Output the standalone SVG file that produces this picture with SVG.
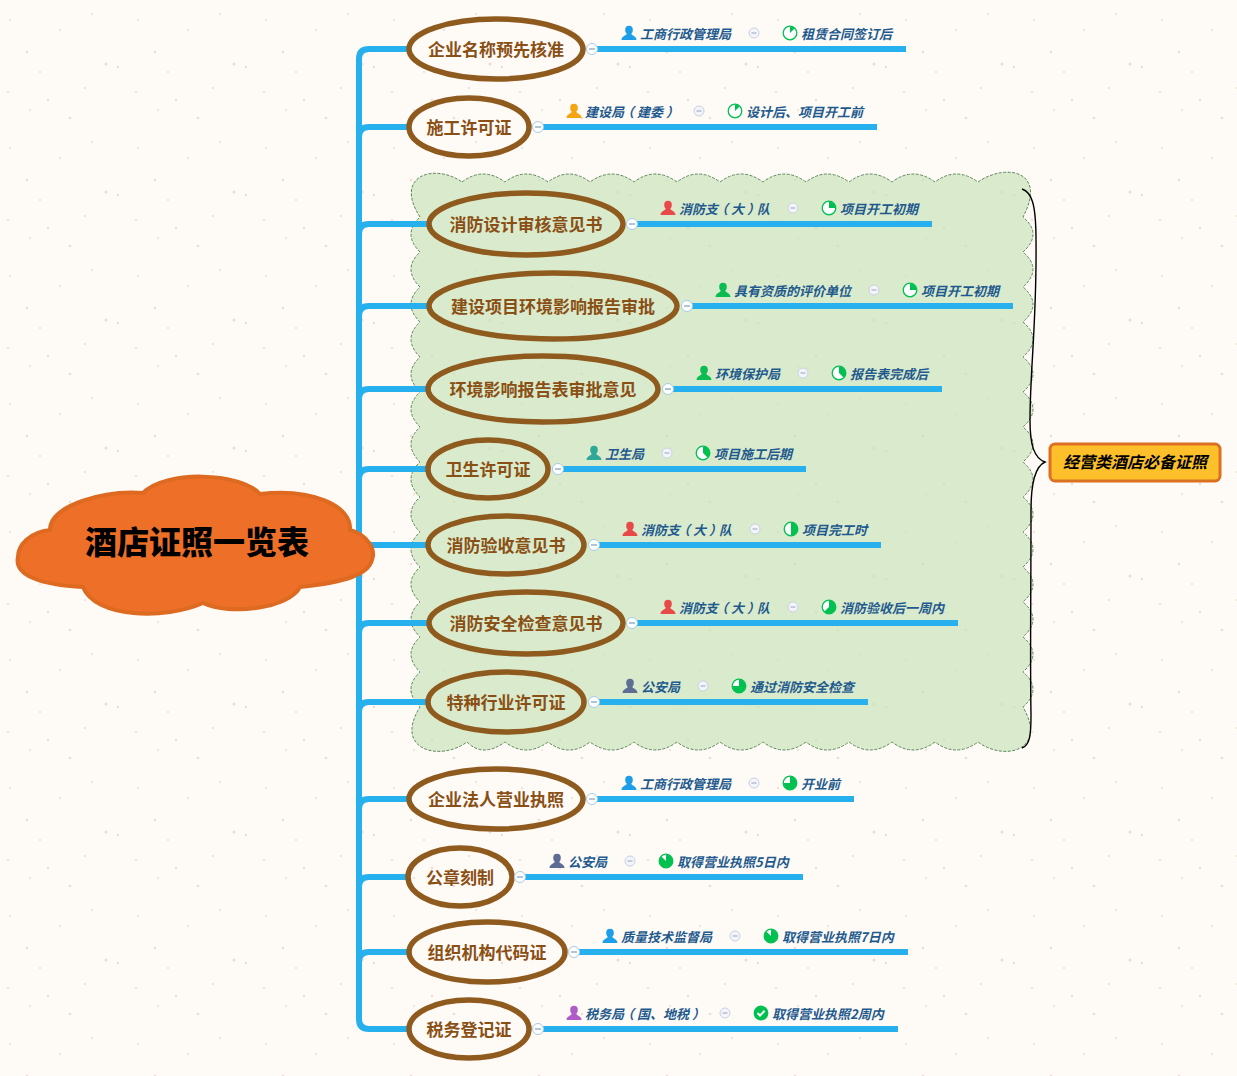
<svg xmlns="http://www.w3.org/2000/svg" xmlns:xlink="http://www.w3.org/1999/xlink" width="1237" height="1076" viewBox="0 0 1237 1076">
<style>
text{font-family:"Noto Sans CJK SC","Liberation Sans",sans-serif}
.t{fill:none;stroke:#8f5a1e;stroke-width:5.5}
.n{font-size:17px;font-weight:700;fill:#8a4f14;text-anchor:middle}
.l{font-size:13px;font-style:italic;font-weight:700;fill:#1f5a8e}
.c{fill:none;stroke:#27b0ee;stroke-width:6}
.e{stroke:#27b0ee;stroke-width:6}
.g{fill:#00c050}
.r{fill:#fff;stroke:#00c050;stroke-width:1.3}
</style>
<defs>
<pattern id="bg" width="128" height="128" patternUnits="userSpaceOnUse">
<rect width="128" height="128" fill="#fefaf6"/>
<g fill="#f5d8cf"><circle cx="106" cy="64" r="1.5"/><circle cx="27" cy="52" r="1.2"/><circle cx="70" cy="118" r="1.2"/><circle cx="48" cy="100" r="1.2"/><circle cx="8" cy="92" r="1"/></g>
<g fill="#ebe0cf"><circle cx="118" cy="67" r="1.2"/><circle cx="10" cy="20" r="1.1"/><circle cx="60" cy="30" r="1"/><circle cx="85" cy="88" r="1"/><circle cx="30" cy="110" r="1"/><circle cx="92" cy="14" r="1"/><circle cx="40" cy="72" r="1"/></g>
</pattern>
<g id="person"><ellipse cx="0" cy="-3" rx="3.8" ry="4.2"/><path d="M-7.5 7C-7.5 3-3 3-2 .5H2C3 3 7.5 3 7.5 7Z"/></g>
<g id="minus"><circle r="5" fill="#f3f5fa" stroke="#c9d0e4"/><path d="M-2.5 0H2.5" stroke="#98a3bd"/></g>
<g id="collapse"><circle r="5.5" fill="#fff" stroke="#a8cbe8"/><path d="M-3 0H3" stroke="#5f8db5"/></g>
<circle id="ring" r="6.8" class="r"/>
<g id="p1"><use xlink:href="#ring"/><path class="g" d="M0 0V-6.5A6.5 6.5 0 0 1 4.6-4.6Z"/></g>
<g id="p2"><use xlink:href="#ring"/><path class="g" d="M0 0V-6.5A6.5 6.5 0 0 1 6.5 0Z"/></g>
<g id="p3"><use xlink:href="#ring"/><path class="g" d="M0 0V-6.5A6.5 6.5 0 0 1 4.6 4.6Z"/></g>
<g id="p4"><use xlink:href="#ring"/><path class="g" d="M0 0V-6.5A6.5 6.5 0 0 1 0 6.5Z"/></g>
<g id="p5"><use xlink:href="#ring"/><path class="g" d="M0 0V-6.5A6.5 6.5 0 1 1-4.6 4.6Z"/></g>
<g id="p6"><use xlink:href="#ring"/><path class="g" d="M0 0V-6.5A6.5 6.5 0 1 1-6.5 0Z"/></g>
<g id="p7"><use xlink:href="#ring"/><path class="g" d="M0 0V-6.5A6.5 6.5 0 1 1-4.6-4.6Z"/></g>
<g id="p8"><circle r="7.4" class="g"/><path d="M-3.5 0L-1 2.6L3.6-2.2" fill="none" stroke="#fff" stroke-width="2"/></g>
</defs>
<rect width="1237" height="1076" fill="url(#bg)"/>
<path id="boundary" fill="#c9e4bb" fill-opacity=".7" stroke="#4f7a4f" stroke-width=".9" stroke-dasharray="3 1.5" d="M462 182Q483 166 505 182Q526 166 548 182Q569 166 590 182Q612 166 634 182Q655 166 677 182Q698 166 720 182Q741 166 763 182Q784 166 806 182Q827 166 849 182Q870 166 892 182Q913 166 935 182Q956 166 978 182C1005 163 1048 170 1023 217Q1043 234 1023 252Q1043 269 1023 287Q1043 304 1023 322Q1043 339 1023 357Q1043 374 1023 392Q1043 409 1023 427Q1043 444 1023 462Q1043 479 1023 497Q1043 514 1023 532Q1043 549 1023 567Q1043 584 1023 602Q1043 619 1023 637Q1043 654 1023 672Q1043 689 1023 707C1048 750 1005 762 978 742Q956 758 935 742Q913 758 892 742Q870 758 849 742Q827 758 806 742Q784 758 763 742Q741 758 720 742Q698 758 677 742Q655 758 634 742Q612 758 590 742Q569 758 548 742Q526 758 505 742Q483 758 467 742C440 762 393 750 420 707Q402 689 420 672Q402 654 420 637Q402 619 420 602Q402 584 420 567Q402 549 420 532Q402 514 420 497Q402 479 420 462Q402 444 420 427Q402 409 420 392Q402 374 420 357Q402 339 420 322Q402 304 420 287Q402 269 420 252Q402 234 420 217C393 175 435 163 462 182Z"/>
<path id="brace" fill="none" stroke="#000" stroke-width="1.4" d="M1022 189C1032 192 1036 205 1036 240C1037 320 1030 370 1030 420C1030 445 1034 458 1045 462C1036 466 1031 480 1031 510C1031 600 1030 660 1031 715C1031 735 1030 745 1022 748"/>
<g id="connectors">
<path class="c" d="M369 49Q359 49 359 59V1019Q359 1029 369 1029H408"/>
<path class="c" d="M369 49H408M359 137Q359 127 369 127H408M359 234Q359 224 369 224H428M359 316Q359 306 369 306H428M359 399Q359 389 369 389H428M359 479Q359 469 369 469H428M340 545H428M359 633Q359 623 369 623H428M359 712Q359 702 369 702H428M359 809Q359 799 369 799H408M359 887Q359 877 369 877H408M359 962Q359 952 369 952H408"/>
<g class="e">
<path d="M597 49H906"/><path d="M543 127H877"/><path d="M637 224H932"/><path d="M692 306H1013"/><path d="M673 389H942"/><path d="M563 469H806"/><path d="M599 545H881"/><path d="M637 623H958"/><path d="M599 702H868"/><path d="M597 799H854"/><path d="M525 877H803"/><path d="M579 952H908"/><path d="M543 1029H898"/>
</g>
</g>
<g id="root"><path fill="#ee6f27" stroke="#dd6a20" stroke-width="4" d="M50 530C50 505 105 490 143 493C165 470 240 472 260 494C310 488 352 505 350 530C368 535 376 550 372 560C368 575 345 582 300 587C290 608 230 616 203 603C165 620 95 618 83 587C40 585 14 575 18 557C18 545 30 532 50 530Z"/><text x="197" y="554" font-size="32" font-weight="900" text-anchor="middle" fill="#000">酒店证照一览表</text></g>
<g id="summary"><rect x="1050" y="444" width="170" height="37" rx="5" fill="#fdc02a" stroke="#db6f22" stroke-width="3"/><text x="1063" y="468" font-size="16" font-weight="700" font-style="italic" fill="#000">经营类酒店必备证照</text></g>

<g id="n1"><ellipse class="t" cx="496" cy="49" rx="87" ry="30"/><text class="n" x="496" y="56">企业名称预先核准</text><use xlink:href="#collapse" x="592" y="49"/><use xlink:href="#person" x="629" y="33" fill="#1c9fe8"/><text class="l" x="640" y="39">工商行政管理局</text><use xlink:href="#minus" x="754" y="33"/><use xlink:href="#p1" x="790" y="33"/><text class="l" x="801" y="39">租赁合同签订后</text></g>
<g id="n2"><ellipse class="t" cx="469" cy="127" rx="60" ry="29"/><text class="n" x="469" y="134">施工许可证</text><use xlink:href="#collapse" x="538" y="127"/><use xlink:href="#person" x="574" y="111" fill="#f5a511"/><text class="l" x="585" y="117">建设局<tspan dx="-3">（</tspan><tspan dx="3">建委</tspan><tspan dx="3">）</tspan></text><use xlink:href="#minus" x="699" y="111"/><use xlink:href="#p1" x="735" y="111"/><text class="l" x="746" y="117">设计后、项目开工前</text></g>
<g id="n3"><ellipse class="t" cx="526" cy="224" rx="97" ry="31"/><text class="n" x="526" y="231">消防设计审核意见书</text><use xlink:href="#collapse" x="632" y="224"/><use xlink:href="#person" x="668" y="208" fill="#e84a4a"/><text class="l" x="679" y="214">消防支<tspan dx="-3">（</tspan><tspan dx="3">大</tspan><tspan dx="3">）</tspan><tspan dx="-3">队</tspan></text><use xlink:href="#minus" x="793" y="208"/><use xlink:href="#p2" x="829" y="208"/><text class="l" x="840" y="214">项目开工初期</text></g>
<g id="n4"><ellipse class="t" cx="553" cy="306" rx="124" ry="33"/><text class="n" x="553" y="313">建设项目环境影响报告审批</text><use xlink:href="#collapse" x="687" y="306"/><use xlink:href="#person" x="723" y="290" fill="#0cbb52"/><text class="l" x="734" y="296">具有资质的评价单位</text><use xlink:href="#minus" x="874" y="290"/><use xlink:href="#p2" x="910" y="290"/><text class="l" x="921" y="296">项目开工初期</text></g>
<g id="n5"><ellipse class="t" cx="543" cy="389" rx="115" ry="33"/><text class="n" x="543" y="396">环境影响报告表审批意见</text><use xlink:href="#collapse" x="668" y="389"/><use xlink:href="#person" x="704" y="373" fill="#0cbb52"/><text class="l" x="715" y="379">环境保护局</text><use xlink:href="#minus" x="803" y="373"/><use xlink:href="#p3" x="839" y="373"/><text class="l" x="850" y="379">报告表完成后</text></g>
<g id="n6"><ellipse class="t" cx="488" cy="469" rx="60" ry="29"/><text class="n" x="488" y="476">卫生许可证</text><use xlink:href="#collapse" x="558" y="469"/><use xlink:href="#person" x="594" y="453" fill="#2fa89a"/><text class="l" x="605" y="459">卫生局</text><use xlink:href="#minus" x="667" y="453"/><use xlink:href="#p3" x="703" y="453"/><text class="l" x="714" y="459">项目施工后期</text></g>
<g id="n7"><ellipse class="t" cx="506" cy="545" rx="78" ry="29"/><text class="n" x="506" y="552">消防验收意见书</text><use xlink:href="#collapse" x="594" y="545"/><use xlink:href="#person" x="630" y="529" fill="#e84a4a"/><text class="l" x="641" y="535">消防支<tspan dx="-3">（</tspan><tspan dx="3">大</tspan><tspan dx="3">）</tspan><tspan dx="-3">队</tspan></text><use xlink:href="#minus" x="755" y="529"/><use xlink:href="#p4" x="791" y="529"/><text class="l" x="802" y="535">项目完工时</text></g>
<g id="n8"><ellipse class="t" cx="526" cy="623" rx="97" ry="31"/><text class="n" x="526" y="630">消防安全检查意见书</text><use xlink:href="#collapse" x="632" y="623"/><use xlink:href="#person" x="668" y="607" fill="#e84a4a"/><text class="l" x="679" y="613">消防支<tspan dx="-3">（</tspan><tspan dx="3">大</tspan><tspan dx="3">）</tspan><tspan dx="-3">队</tspan></text><use xlink:href="#minus" x="793" y="607"/><use xlink:href="#p5" x="829" y="607"/><text class="l" x="840" y="613">消防验收后一周内</text></g>
<g id="n9"><ellipse class="t" cx="506" cy="702" rx="78" ry="30"/><text class="n" x="506" y="709">特种行业许可证</text><use xlink:href="#collapse" x="594" y="702"/><use xlink:href="#person" x="630" y="686" fill="#5f6d94"/><text class="l" x="641" y="692">公安局</text><use xlink:href="#minus" x="703" y="686"/><use xlink:href="#p6" x="739" y="686"/><text class="l" x="750" y="692">通过消防安全检查</text></g>
<g id="n10"><ellipse class="t" cx="496" cy="799" rx="87" ry="30"/><text class="n" x="496" y="806">企业法人营业执照</text><use xlink:href="#collapse" x="592" y="799"/><use xlink:href="#person" x="629" y="783" fill="#1c9fe8"/><text class="l" x="640" y="789">工商行政管理局</text><use xlink:href="#minus" x="754" y="783"/><use xlink:href="#p6" x="790" y="783"/><text class="l" x="801" y="789">开业前</text></g>
<g id="n11"><ellipse class="t" cx="460" cy="877" rx="52" ry="29"/><text class="n" x="460" y="884">公章刻制</text><use xlink:href="#collapse" x="520" y="877"/><use xlink:href="#person" x="557" y="861" fill="#5f6d94"/><text class="l" x="568" y="867">公安局</text><use xlink:href="#minus" x="630" y="861"/><use xlink:href="#p7" x="666" y="861"/><text class="l" x="677" y="867">取得营业执照5日内</text></g>
<g id="n12"><ellipse class="t" cx="487" cy="952" rx="78" ry="30"/><text class="n" x="487" y="959">组织机构代码证</text><use xlink:href="#collapse" x="574" y="952"/><use xlink:href="#person" x="610" y="936" fill="#1c9fe8"/><text class="l" x="621" y="942">质量技术监督局</text><use xlink:href="#minus" x="735" y="936"/><use xlink:href="#p7" x="771" y="936"/><text class="l" x="782" y="942">取得营业执照7日内</text></g>
<g id="n13"><ellipse class="t" cx="469" cy="1029" rx="60" ry="29"/><text class="n" x="469" y="1036">税务登记证</text><use xlink:href="#collapse" x="538" y="1029"/><use xlink:href="#person" x="574" y="1013" fill="#b05cc8"/><text class="l" x="585" y="1019">税务局<tspan dx="-3">（</tspan><tspan dx="3">国、地税</tspan><tspan dx="3">）</tspan></text><use xlink:href="#minus" x="725" y="1013"/><use xlink:href="#p8" x="761" y="1013"/><text class="l" x="772" y="1019">取得营业执照2周内</text></g>
</svg>
